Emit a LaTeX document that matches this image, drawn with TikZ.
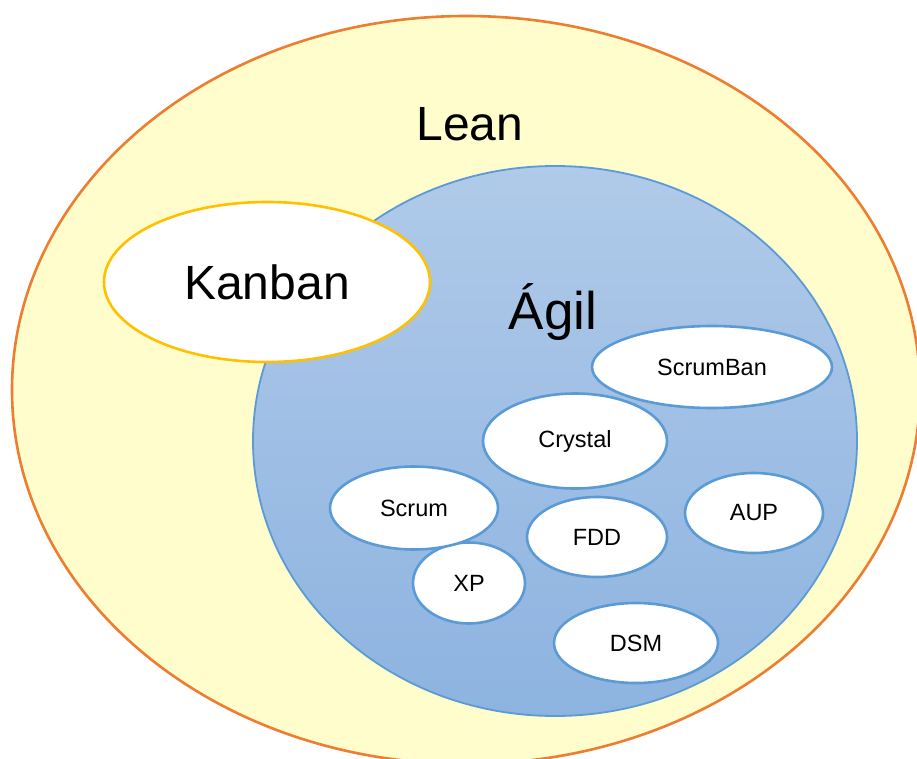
\documentclass[tikz,border=0pt]{standalone}
\usepackage{fontspec}
\setmainfont{Liberation Sans}
\usetikzlibrary{shapes.geometric}
\definecolor{leanfill}{RGB}{255,253,204}
\definecolor{leanline}{RGB}{237,125,49}
\definecolor{agiltop}{RGB}{176,202,233}
\definecolor{agilbot}{RGB}{141,179,224}
\definecolor{blueline}{RGB}{91,155,213}
\definecolor{kanbanline}{RGB}{255,192,0}
\tikzset{
  big/.style={ellipse, inner sep=0pt, font=\fontsize{48}{50}\selectfont},
  method/.style={ellipse, inner sep=0pt, fill=white, draw=blueline, line width=2.6pt,
    font=\fontsize{23.5}{25}\selectfont}
}
\begin{document}
\begin{tikzpicture}[x=1pt,y=-1pt]
\useasboundingbox (0,0) rectangle (917,759);
\clip (0,0) rectangle (917,759);
% outer Lean region
\node[big, fill=leanfill, draw=leanline, line width=2.6pt,
  minimum width=908pt, minimum height=748pt] (lean) at (466,390) {};
\node[font=\fontsize{48}{50}\selectfont] (leanlbl) at (470,124) {Lean};
% Agile region
\node[big, draw=blueline, line width=1.8pt, top color=agiltop, bottom color=agilbot,
  minimum width=604pt, minimum height=550pt] (agil) at (555,441) {};
\node[font=\fontsize{53}{55}\selectfont] (agillbl) at (553,312) {Ágil};
% Kanban
\node[big, fill=white, draw=kanbanline, line width=2.6pt,
  minimum width=326pt, minimum height=160pt] (kanban) at (267,282) {Kanban};
% agile methods
\node[method, minimum width=240pt, minimum height=82pt] (scrumban) at (712,367) {ScrumBan};
\node[method, minimum width=184pt, minimum height=95pt] (crystal) at (575,441) {Crystal};
\node[method, minimum width=112pt, minimum height=81pt] (xp) at (469,583) {XP};
\node[method, minimum width=168pt, minimum height=83pt] (scrum) at (414,508) {Scrum};
\node[method, minimum width=140pt, minimum height=80pt] (fdd) at (597,537) {FDD};
\node[method, minimum width=138pt, minimum height=80pt] (aup) at (754,513) {AUP};
\node[method, minimum width=164pt, minimum height=80pt] (dsm) at (636,643) {DSM};
\end{tikzpicture}
\end{document}
